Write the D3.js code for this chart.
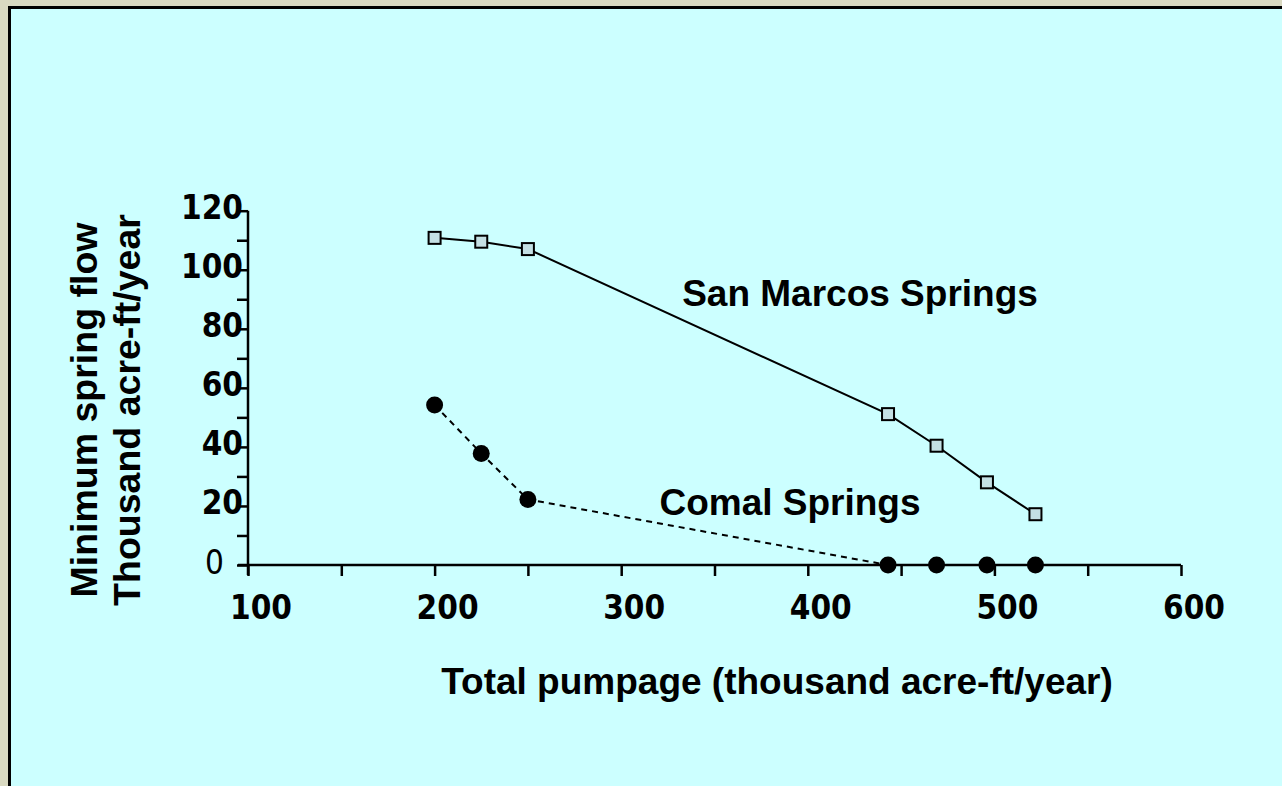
<!DOCTYPE html>
<html>
<head>
<meta charset="utf-8">
<script src="https://cdn.jsdelivr.net/npm/d3@7"></script>
<style>
  body { margin: 0; background: #d9d9c1; }
  .tick-num { font-family: 'DejaVu Sans Condensed', 'DejaVu Sans', sans-serif; font-weight: bold; font-size: 33px; fill: #000; }
  .title { font-family: 'Liberation Sans', Arial, sans-serif; font-weight: bold; fill: #000; }
</style>
</head>
<body>
<div id="chart"></div>
<script>
const pumpage = [200, 225, 250, 443, 469, 496, 522];
const sanMarcos = [110.8, 109.5, 107, 51.1, 40.4, 28, 17.2];
const comal = [54.2, 37.8, 22.2, 0, 0, 0, 0];
const xTicks = [100, 200, 300, 400, 500, 600];
const yTicks = [0, 20, 40, 60, 80, 100, 120];

function draw() {
  const dimensions = { width: 1282, height: 786 };

  const svg = d3.select('#chart').append('svg')
    .attr('width', dimensions.width)
    .attr('height', dimensions.height);

  // frame
  svg.append('rect')
    .attr('x', 9.5).attr('y', 7.5)
    .attr('width', 1290).attr('height', 800)
    .attr('fill', '#ccffff')
    .attr('stroke', '#000')
    .attr('stroke-width', 3);

  const xScale = d3.scaleLinear().domain([100, 600]).range([248, 1181]);
  const yScale = d3.scaleLinear().domain([0, 120]).range([565, 210.7]);

  // y axis
  const yAxis = d3.axisLeft(yScale).tickValues(d3.range(0, 121, 10)).tickSize(11).tickFormat('');
  const yAxisGroup = svg.append('g').attr('transform', 'translate(248,0)').call(yAxis);
  yAxisGroup.select('.domain').attr('stroke-width', 2.5).attr('d', `M0,${yScale(120)}V${yScale(0) + 10}`);
  yAxisGroup.selectAll('.tick line').attr('stroke-width', 2.5);

  svg.append('g').selectAll('text')
    .data(yTicks)
    .join('text')
    .attr('class', 'tick-num')
    .attr('x', (d) => (d === 0 ? 224 : 243))
    .attr('y', (d) => yScale(d) - 3)
    .attr('text-anchor', 'end')
    .attr('dominant-baseline', 'central')
    .style('font-weight', (d) => (d === 0 ? 'normal' : 'bold'))
    .text((d) => d);

  // x axis
  const xAxis = d3.axisBottom(xScale).tickValues(d3.range(100, 601, 50)).tickSize(11).tickFormat('');
  const xAxisGroup = svg.append('g').attr('transform', `translate(0,${yScale(0)})`).call(xAxis);
  xAxisGroup.select('.domain').attr('stroke-width', 2.5).attr('d', `M${xScale(100) - 10},0H${xScale(600)}`);
  xAxisGroup.selectAll('.tick line').attr('stroke-width', 2.5);

  svg.append('g').selectAll('text')
    .data(xTicks)
    .join('text')
    .attr('class', 'tick-num')
    .attr('x', (d) => xScale(d) + 13)
    .attr('y', 607)
    .attr('text-anchor', 'middle')
    .attr('dominant-baseline', 'central')
    .text((d) => d);

  const line = d3.line().x((d) => xScale(d[0])).y((d) => yScale(d[1]));
  const smData = pumpage.map((p, i) => [p, sanMarcos[i]]);
  const comalData = pumpage.map((p, i) => [p, comal[i]]);

  svg.append('path')
    .datum(comalData)
    .attr('d', line)
    .attr('fill', 'none')
    .attr('stroke', '#000')
    .attr('stroke-width', 2)
    .attr('stroke-dasharray', '6,5');

  svg.append('path')
    .datum(smData)
    .attr('d', line)
    .attr('fill', 'none')
    .attr('stroke', '#000')
    .attr('stroke-width', 2);

  svg.append('g').selectAll('circle')
    .data(comalData)
    .join('circle')
    .attr('cx', (d) => xScale(d[0]))
    .attr('cy', (d) => yScale(d[1]))
    .attr('r', 8.5)
    .attr('fill', '#000');

  svg.append('g').selectAll('rect')
    .data(smData)
    .join('rect')
    .attr('x', (d) => xScale(d[0]) - 6)
    .attr('y', (d) => yScale(d[1]) - 6)
    .attr('width', 12)
    .attr('height', 12)
    .attr('fill', '#c4e0e4')
    .attr('stroke', '#000')
    .attr('stroke-width', 2);

  // series labels
  svg.append('text').attr('class', 'title').attr('x', 860).attr('y', 306)
    .attr('text-anchor', 'middle').style('font-size', '37px').text('San Marcos Springs');
  svg.append('text').attr('class', 'title').attr('x', 790).attr('y', 515)
    .attr('text-anchor', 'middle').style('font-size', '37px').text('Comal Springs');

  // axis titles
  svg.append('text').attr('class', 'title').attr('x', 777).attr('y', 694)
    .attr('text-anchor', 'middle').style('font-size', '37px')
    .text('Total pumpage (thousand acre-ft/year)');

  const yTitle = svg.append('text').attr('class', 'title')
    .attr('transform', 'translate(0,410) rotate(-90)')
    .attr('text-anchor', 'middle').style('font-size', '37.5px');
  yTitle.append('tspan').attr('x', 0).attr('y', 97).text('Minimum spring flow');
  yTitle.append('tspan').attr('x', 0).attr('y', 140).text('Thousand acre-ft/year');
}

draw();
</script>
</body>
</html>
